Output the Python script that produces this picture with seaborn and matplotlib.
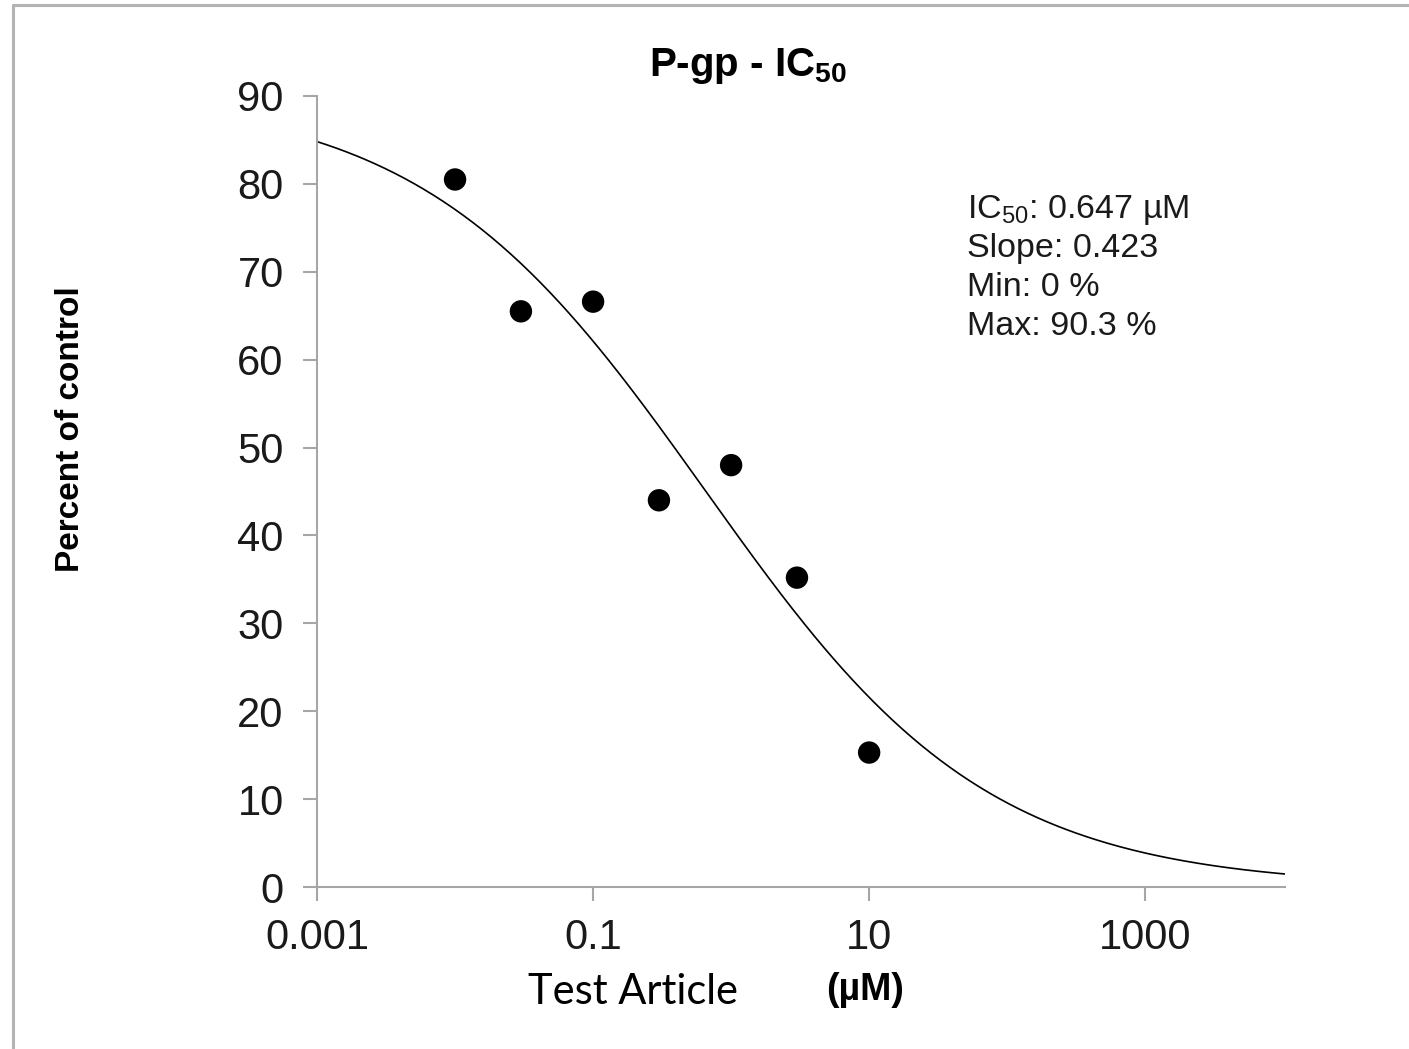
import numpy as np
import pandas as pd
import matplotlib
matplotlib.use("Agg")
import matplotlib.pyplot as plt
from matplotlib.lines import Line2D
import seaborn as sns

# ---- data ----
conc_uM = [0.01, 0.03, 0.1, 0.3, 1.0, 3.0, 10.0]
pct_control = [80.5, 65.5, 66.6, 44.0, 48.0, 35.2, 15.3]

# fitted 4-parameter logistic parameters (shown on the chart)
ic50 = 0.647
hill_slope = 0.423
fit_min = 0.0
fit_max = 90.3

x_ticks = [0.001, 0.1, 10, 1000]
x_tick_labels = ["0.001", "0.1", "10", "1000"]
y_ticks = [0, 10, 20, 30, 40, 50, 60, 70, 80, 90]

sns.set_theme(style="white")
plt.rcParams["font.family"] = ["Liberation Sans", "DejaVu Sans"]
plt.rcParams["mathtext.fontset"] = "custom"
plt.rcParams["mathtext.rm"] = "Liberation Sans"
plt.rcParams["mathtext.it"] = "Liberation Sans:italic"
plt.rcParams["mathtext.bf"] = "Liberation Sans:bold"

fig = plt.figure(figsize=(14.09, 10.49), dpi=100)
ax = fig.add_axes([0.225, 0.1544, 0.687, 0.7541])

# fitted curve from the displayed parameters
xc = np.logspace(-3, np.log10(1.03e4), 400)
yc = fit_min + (fit_max - fit_min) / (1 + (xc / ic50) ** hill_slope)
curve = pd.DataFrame({"x": xc, "y": yc})
sns.lineplot(data=curve, x="x", y="y", ax=ax, color="black", lw=1.2, zorder=2)

pts = pd.DataFrame({"conc": conc_uM, "pct": pct_control})
sns.scatterplot(data=pts, x="conc", y="pct", ax=ax, color="black", s=260,
                edgecolor="none", zorder=3)

ax.set_xscale("log")
ax.set_xlim(1e-3, 1.03e4)
ax.set_ylim(0, 90)
ax.set_xticks(x_ticks)
ax.set_xticklabels(x_tick_labels)
ax.xaxis.set_minor_locator(matplotlib.ticker.NullLocator())
ax.set_yticks(y_ticks)
ax.set_xlabel("")
ax.set_ylabel("")

spine_c = "#a6a6a6"
for s in ["top", "right"]:
    ax.spines[s].set_visible(False)
for s in ["left", "bottom"]:
    ax.spines[s].set_color(spine_c)
    ax.spines[s].set_linewidth(1.5)
ax.tick_params(axis="both", which="major", direction="out", length=10,
               width=1.5, color=spine_c, labelsize=30, labelcolor="#1a1a1a",
               bottom=True, left=True)
ax.tick_params(axis="x", pad=12)
ax.tick_params(axis="y", pad=14)

# title
fig.text(0.531, 0.937, r"P-gp - IC$_{\mathbf{50}}$", ha="center", va="center",
         fontsize=29, fontweight="bold", color="black")

# y label
fig.text(0.050, 0.591, "Percent of control", rotation=90, ha="center",
         va="center", fontsize=24, fontweight="bold", color="black")

# x label parts
fig.text(0.449, 0.054, "Test Article", ha="center", va="center",
         fontsize=30, family=["Lato", "DejaVu Sans"], color="black")
fig.text(0.614, 0.056, "(µM)", ha="center", va="center",
         fontsize=27, fontweight="bold", color="black")

# annotation
ann = [r"IC$_{50}$: 0.647 µM", "Slope: 0.423", "Min: 0 %", "Max: 90.3 %"]
for i, t in enumerate(ann):
    fig.text(0.686, 0.800 - i * 0.0372, t, ha="left", va="center",
             fontsize=24.5, color="#1a1a1a")

# frame lines at top and left of the image
border_c = "#b4b4b4"
fig.add_artist(Line2D([0.0093, 1.0], [0.9952, 0.9952], transform=fig.transFigure,
                      color=border_c, lw=2.2))
fig.add_artist(Line2D([0.0093, 0.0093], [0.0, 0.9952], transform=fig.transFigure,
                      color=border_c, lw=2.2))

fig.savefig("out.png", dpi=100, facecolor="white")
